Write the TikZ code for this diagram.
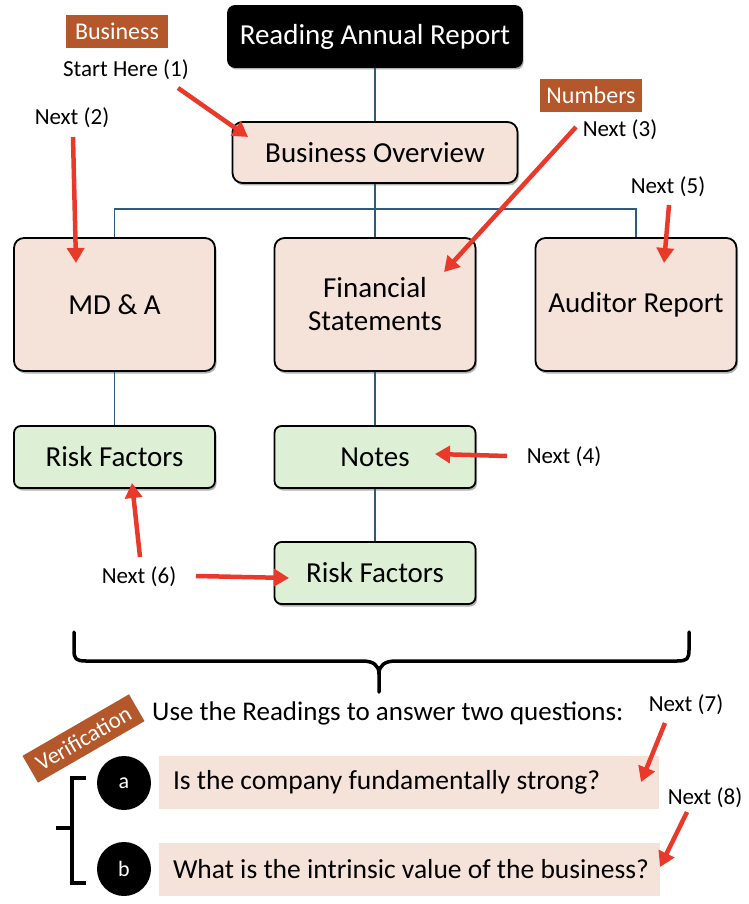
\documentclass[tikz,border=0pt]{standalone}
\usepackage{fontspec}
\setmainfont{Carlito}
\usetikzlibrary{arrows.meta,shadows}
\definecolor{peach}{HTML}{F5E3D9}
\definecolor{mint}{HTML}{DDEFD4}
\definecolor{rust}{HTML}{B4572A}
\definecolor{linkc}{HTML}{2E5B7C}
\definecolor{redarr}{HTML}{E8392A}
\begin{document}
\begin{tikzpicture}[x=1pt,y=-1pt,
  shad/.style={drop shadow={shadow xshift=1.5pt,shadow yshift=-2.5pt,opacity=0.3,fill=black}},
  box/.style={draw=black,line width=1.8pt,rounded corners=10pt,fill=peach,shad,inner sep=0pt,align=center,font=\fontsize{29}{33}\selectfont},
  gbox/.style={box,fill=mint,rounded corners=7pt},
  titlebox/.style={box,fill=black,text=white,rounded corners=7pt},
  tag/.style={fill=rust,text=white,inner sep=0pt,font=\fontsize{24}{28}\selectfont},
  nextl/.style={inner sep=0pt,font=\fontsize{23}{27}\selectfont},
  link/.style={draw=linkc,line width=1.8pt},
  redarrow/.style={draw=redarr,line width=4.5pt,-{Triangle[length=15pt,width=17pt]}},
  circ/.style={circle,fill=black,text=white,minimum size=54pt,inner sep=0pt,font=\fontsize{22}{26}\selectfont},
  qbox/.style={fill=peach,inner xsep=14pt,inner ysep=0pt,minimum height=53pt,font=\fontsize{27.5}{32}\selectfont}
]
\useasboundingbox (0,0) rectangle (748,904);

% main boxes
\node[titlebox,minimum width=294pt,minimum height=61pt] (title) at (375,36.5) {Reading Annual Report};
\node[box,minimum width=285pt,minimum height=61pt] (bo) at (375,152.5) {Business Overview};
\node[box,minimum width=201pt,minimum height=133pt] (mda) at (114.5,304.5) {MD \& A};
\node[box,minimum width=201pt,minimum height=133pt] (fs) at (375,304.5) {Financial\\Statements};
\node[box,minimum width=201pt,minimum height=133pt] (aud) at (636,304.5) {Auditor Report};
\node[gbox,minimum width=201pt,minimum height=62pt] (rf1) at (114.5,457) {Risk Factors};
\node[gbox,minimum width=201pt,minimum height=62pt] (notes) at (375,457) {Notes};
\node[gbox,minimum width=201pt,minimum height=62pt] (rf2) at (375,573) {Risk Factors};

% tree links
\draw[link] (title.south) -- (bo.north);
\draw[link] (bo.south) -- (fs.north);
\draw[link] (mda.north) -- ++(0,-28) -| (aud.north);
\draw[link] (mda.south) -- (rf1.north);
\draw[link] (fs.south) -- (notes.north);
\draw[link] (notes.south) -- (rf2.north);

% tags and step labels
\node[tag,minimum width=102pt,minimum height=33pt] (tbus) at (117,31.5) {Business};
\node[tag,minimum width=102pt,minimum height=33pt] (tnum) at (591,95.5) {Numbers};
\node[nextl] (n1) at (126,70) {Start Here (1)};
\node[nextl] (n2) at (72,118) {Next (2)};
\node[nextl] (n3) at (620,130) {Next (3)};
\node[nextl] (n5) at (668,187) {Next (5)};
\node[nextl] (n4) at (564,457) {Next (4)};
\node[nextl] (n6) at (139,577) {Next (6)};
\node[nextl] (n7) at (686,705) {Next (7)};
\node[nextl] (n8) at (705,798) {Next (8)};

% big brace
\draw[line width=3.5pt,line cap=round,line join=round]
  (74,632) -- (74,650) .. controls (74,659) and (76,661) .. (86,661) -- (362,661)
  .. controls (373,661) and (379,665) .. (379,674) -- (379,692);
\draw[line width=3.5pt,line cap=round,line join=round]
  (379,674) .. controls (379,665) and (385,661) .. (396,661) -- (677,661)
  .. controls (687,661) and (689,659) .. (689,650) -- (689,632);

% verification section
\node[tag,rotate=30,minimum width=123pt,minimum height=31pt,font=\fontsize{23}{27}\selectfont] (tver) at (83.5,738.5) {Verification};
\node[anchor=west,inner sep=0pt,font=\fontsize{27}{31}\selectfont] (use) at (152,713) {Use the Readings to answer two questions:};
\node[qbox] (qa) at (409,782.5) {\makebox[472pt][l]{Is the company fundamentally strong?}};
\node[qbox] (qb) at (409.5,869) {\makebox[473pt][l]{What is the intrinsic value of the business?}};
\node[circ] (ca) at (124,783) {a};
\node[circ] (cb) at (124,869) {b};
\draw[line width=3.5pt] (86,778) -- (72,778) -- (72,883) -- (86,883);
\draw[line width=3.5pt] (56,828) -- (72,828);

% arrow ends
\coordinate (s1) at (178,88);  \coordinate (e1) at (248,137);
\coordinate (s2) at (73,137);  \coordinate (e2) at (76,263);
\coordinate (s3) at (576,127); \coordinate (e3) at (444,272);
\coordinate (s5) at (669,205); \coordinate (e5) at (664,263);
\coordinate (s4) at (507,456); \coordinate (e4) at (435,454);
\coordinate (s6) at (140,557); \coordinate (e6) at (132,483);
\coordinate (s6b) at (196,576); \coordinate (e6b) at (289,578);
\coordinate (s7) at (665,723); \coordinate (e7) at (641,782);
\coordinate (s8) at (687,812); \coordinate (e8) at (660,867);
\draw[redarrow] (s1) -- (e1);
\draw[redarrow] (s2) -- (e2);
\draw[redarrow] (s3) -- (e3);
\draw[redarrow] (s5) -- (e5);
\draw[redarrow] (s4) -- (e4);
\draw[redarrow] (s6) -- (e6);
\draw[redarrow] (s6b) -- (e6b);
\draw[redarrow] (s7) -- (e7);
\draw[redarrow] (s8) -- (e8);
\end{tikzpicture}
\end{document}
